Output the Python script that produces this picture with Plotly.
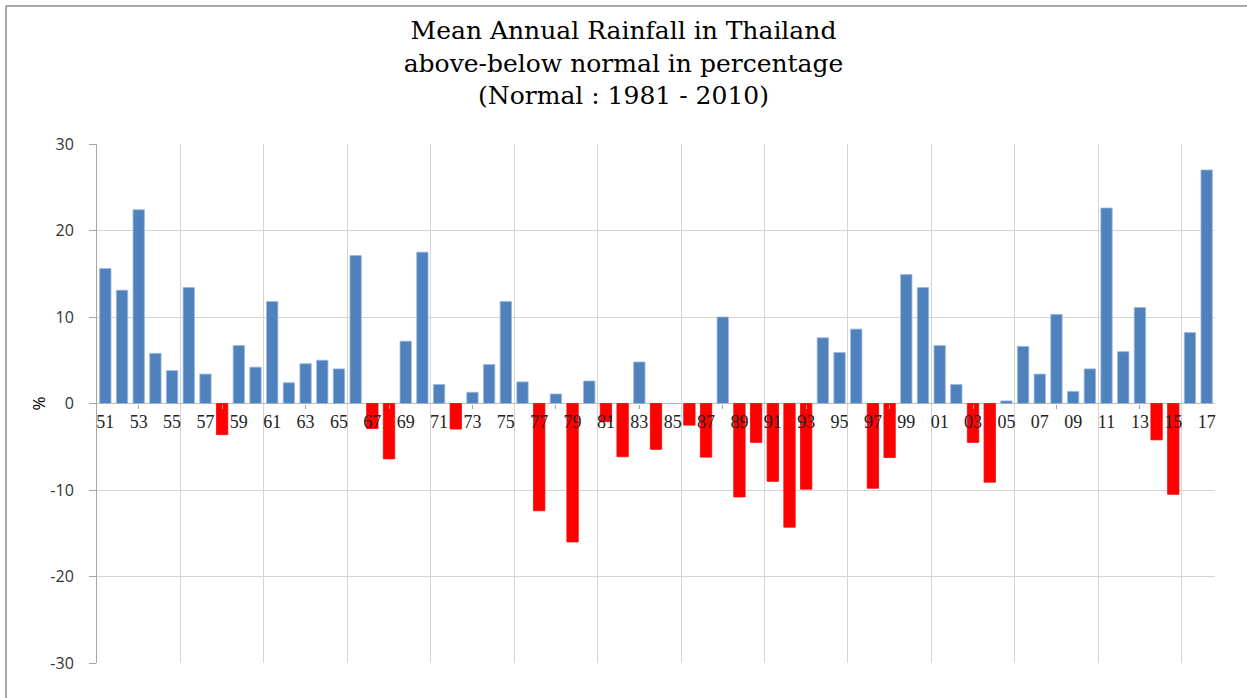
import plotly.graph_objects as go

years = list(range(1951, 2018))
anomaly = [
    15.6, 13.1, 22.4, 5.8, 3.8, 13.4, 3.4, -3.6, 6.7, 4.2,
    11.8, 2.4, 4.6, 5.0, 4.0, 17.1, -2.9, -6.4, 7.2, 17.5,
    2.2, -2.95, 1.3, 4.5, 11.8, 2.5, -12.4, 1.1, -16.0, 2.6,
    -2.1, -6.15, 4.8, -5.3, 0.0, -2.5, -6.2, 10.0, -10.8, -4.5,
    -9.0, -14.3, -9.9, 7.6, 5.9, 8.6, -9.8, -6.25, 14.9, 13.4,
    6.7, 2.2, -4.5, -9.1, 0.3, 6.6, 3.4, 10.3, 1.4, 4.0,
    22.6, 6.0, 11.1, -4.2, -10.5, 8.2, 27.0,
]
label_years = years[::2]
tick_labels = [f"{y % 100:02d}" for y in label_years]
tickmark_years = years[2::5]
grid_years = [y + 0.5 for y in years[4::5]] + [years[-1] + 0.5]
y_ticks = [-30, -20, -10, 0, 10, 20, 30]
y_tick_labels = ["-30", "-20", "-10", "0", "10", "20", "30"]

BLUE = "#4F81BD"
RED = "#FF0000"
colors = [BLUE if v >= 0 else RED for v in anomaly]
line_colors = ["#9DB8DC" if v >= 0 else RED for v in anomaly]

fig = go.Figure()
fig.add_trace(go.Bar(
    x=years, y=anomaly,
    marker=dict(color=colors, line=dict(color=line_colors, width=0.8)),
    showlegend=False,
))
# invisible helper trace for the tick-mark axis
fig.add_trace(go.Scatter(x=[years[0]], y=[0], xaxis="x2", mode="markers",
                         marker=dict(opacity=0), showlegend=False, hoverinfo="skip"))

GRID = "#D4D4D4"
fig.update_layout(
    width=1247, height=698,
    margin=dict(l=97, r=32, t=144, b=35),
    paper_bgcolor="white", plot_bgcolor="white",
    bargap=0.32,
    title=dict(
        text="Mean Annual Rainfall in Thailand<br>above-below normal in percentage<br>(Normal : 1981 - 2010)",
        x=0.5, xref="container", xanchor="center",
        y=1 - 39 / 698, yref="container", yanchor="top",
        font=dict(family="DejaVu Serif", size=25, color="black"),
    ),
    xaxis=dict(
        range=[years[0] - 0.5, years[-1] + 0.5],
        tickmode="array", tickvals=label_years, ticktext=tick_labels,
        ticks="", showgrid=False, zeroline=False, showline=False,
        anchor="free", position=0.5, ticklabelstandoff=5,
        tickfont=dict(family="Liberation Serif", size=18, color="#222222"),
        minor=dict(tickmode="array", tickvals=grid_years, showgrid=True,
                   gridcolor=GRID, gridwidth=1, ticks=""),
    ),
    xaxis2=dict(
        matches="x", overlaying="x", anchor="free", position=0.5,
        tickmode="array", tickvals=tickmark_years, ticks="outside",
        ticklen=4, tickcolor="#A6A6A6", showticklabels=False,
        showgrid=False, zeroline=False, showline=False,
    ),
    yaxis=dict(
        range=[-30, 30], tickmode="array", tickvals=y_ticks, ticktext=y_tick_labels,
        ticks="outside", ticklen=7, tickcolor="#A6A6A6",
        ticklabelstandoff=12,
        showgrid=True, gridcolor=GRID, gridwidth=1,
        zeroline=True, zerolinecolor="#BFBFBF", zerolinewidth=1,
        showline=True, linecolor="#A6A6A6", linewidth=1, mirror=False,
        tickfont=dict(family="Open Sans", size=16, color="#333333"),
        title=dict(text="%", font=dict(family="Open Sans", size=17, color="black"), standoff=0),
    ),
    shapes=[
        dict(type="line", xref="paper", yref="paper",
             x0=(6 - 97) / 1118, x1=(1260 - 97) / 1118,
             y0=(663 - 6) / 519, y1=(663 - 6) / 519,
             line=dict(color="#8C8C8C", width=1.5)),
        dict(type="line", xref="paper", yref="paper",
             x0=(6 - 97) / 1118, x1=(6 - 97) / 1118,
             y0=(663 - 6) / 519, y1=(663 - 710) / 519,
             line=dict(color="#8C8C8C", width=1.5)),
    ],
)

fig.write_html("out.html", config={"displayModeBar": False},
               post_script="document.body.style.margin='0';document.body.style.overflow='hidden';")
